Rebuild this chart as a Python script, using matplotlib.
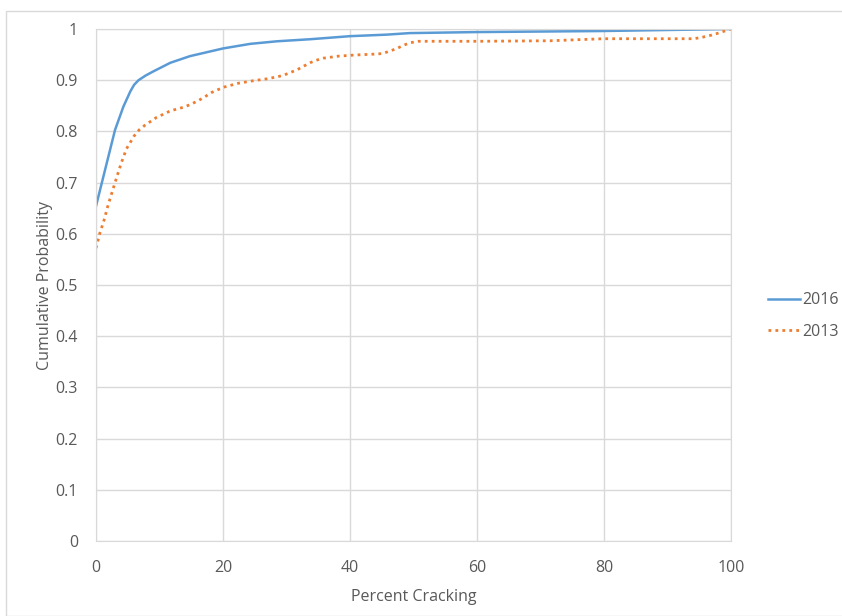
import numpy as np
import matplotlib.pyplot as plt
from matplotlib.patches import Rectangle

# curve (percent cracking vs cumulative probability)
x2016 = [0, 3.0, 4.3, 5.4, 6.0, 6.7, 7.8, 9.0, 11.7, 14.8, 20.0, 24.3, 28.5, 33.7,
         40.0, 45.8, 49.4, 60.0, 79.4, 100]
y2016 = [0.654, 0.803, 0.848, 0.878, 0.891, 0.900, 0.909, 0.917, 0.934, 0.947, 0.962, 0.971,
         0.976, 0.980, 0.986, 0.989, 0.992, 0.994, 0.996, 1.0]

x2013 = [0, 0.6, 1.3, 1.9, 2.6, 3.3, 4.0, 4.8, 6.0, 6.8, 7.7, 9.5, 11.7, 14.0,
         15.1, 16.1, 17.2, 18.2, 19.3, 20.3, 22.4, 24.8, 27.1, 29.4, 31.6,
         33.7, 34.7, 35.8, 38.2, 40.5, 43.9, 45.1, 46.3, 47.4, 48.4, 49.4,
         50.8, 60.0, 71.5, 77.8, 79.9, 94.1, 95.1, 96.3, 97.5, 98.5, 100]
y2013 = [0.572, 0.601, 0.628, 0.656, 0.684, 0.712, 0.739, 0.766, 0.791, 0.803,
         0.812, 0.827, 0.840, 0.848, 0.854, 0.860, 0.868, 0.876, 0.882, 0.887,
         0.894, 0.899, 0.903, 0.909, 0.920, 0.934, 0.939, 0.943, 0.947, 0.949,
         0.951, 0.952, 0.957, 0.962, 0.968, 0.973, 0.976, 0.976, 0.977, 0.980,
         0.981, 0.981, 0.983, 0.986, 0.990, 0.994, 1.0]

xticks = [0, 20, 40, 60, 80, 100]
yticks = [0, 0.1, 0.2, 0.3, 0.4, 0.5, 0.6, 0.7, 0.8, 0.9, 1]
ylabs = ['0', '0.1', '0.2', '0.3', '0.4', '0.5', '0.6', '0.7', '0.8', '0.9', '1']

blue = '#5B9BD5'
orange = '#ED7D31'
grid = '#D9D9D9'
txt = '#595959'

plt.rcParams['font.family'] = ['Open Sans', 'DejaVu Sans']
fs = 11.5

fig = plt.figure(figsize=(8.42, 6.16), dpi=100)
ax = fig.add_axes([96/842, 1-541/616, 635/842, 512/616])

# chart border
fig.patches.append(Rectangle((6/842, 0), 1, 1-11/616, transform=fig.transFigure,
                             fill=False, edgecolor=grid, lw=1))

ax.plot(x2016, y2016, color=blue, lw=1.8, label='2016')
ax.plot(x2013, y2013, color=orange, lw=2, linestyle=(0, (1, 1.5)), label='2013')

ax.set_xlim(0, 100)
ax.set_ylim(0, 1)
ax.set_xticks(xticks)
ax.set_xticklabels([str(v) for v in xticks])
ax.set_yticks(yticks)
ax.set_yticklabels(ylabs)
ax.tick_params(length=0, labelsize=fs, labelcolor=txt)
ax.tick_params(axis='x', pad=14)
ax.tick_params(axis='y', pad=13)
ax.grid(True, color=grid, lw=1)
ax.set_axisbelow(True)
for s in ax.spines.values():
    s.set_color(grid)

ax.set_xlabel('Percent Cracking', fontsize=fs, color=txt, labelpad=9)
ax.set_ylabel('Cumulative Probability', fontsize=fs, color=txt, labelpad=2)

fig.legend(loc='center left', bbox_to_anchor=(754/842, 1-316/616), frameon=False,
           fontsize=fs, labelcolor=txt, handlelength=2.0, handletextpad=0.1,
           labelspacing=0.95)

fig.savefig('out.png', dpi=100)
